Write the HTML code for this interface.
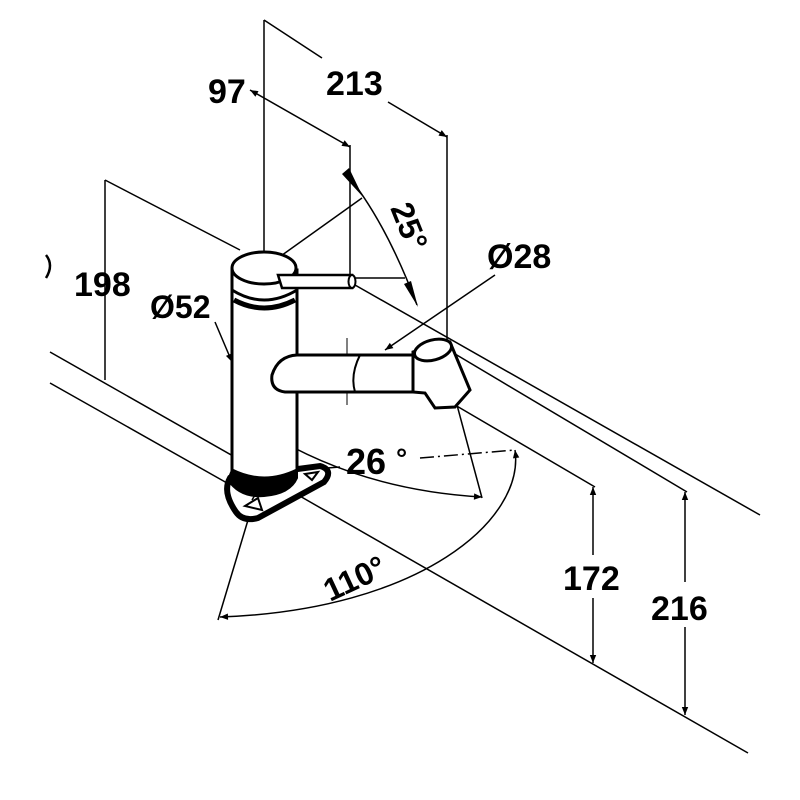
<!DOCTYPE html>
<html><head><style>body{margin:0;background:#fff}svg{display:block}text{font-family:"Liberation Sans",sans-serif;font-weight:bold;fill:#000}</style></head><body>
<svg width="800" height="800" viewBox="0 0 800 800" xmlns="http://www.w3.org/2000/svg">
<defs>
<marker id="a" viewBox="0 0 10 10" refX="10" refY="5" markerWidth="12" markerHeight="8" orient="auto-start-reverse" markerUnits="userSpaceOnUse"><path d="M0,1 L10,5 L0,9z" fill="#000"/></marker>
</defs>
<g stroke="#000" stroke-width="1.5" fill="none">
<line x1="105" y1="180" x2="240" y2="250"/>
<line x1="355" y1="285" x2="760" y2="515"/>
<line x1="50" y1="352" x2="263" y2="473"/>
<line x1="298" y1="495" x2="748" y2="753"/>
<line x1="50" y1="383" x2="227" y2="483"/>
<line x1="455" y1="405" x2="595" y2="487"/>
<line x1="440" y1="345" x2="687" y2="492"/>
<line x1="264" y1="20" x2="264" y2="432"/>
<line x1="350" y1="145" x2="350" y2="278"/>
<line x1="447" y1="135" x2="447" y2="345"/>
<line x1="105" y1="180" x2="105" y2="380"/>
<line x1="250" y1="90" x2="350" y2="147" marker-start="url(#a)" marker-end="url(#a)"/>
<line x1="264" y1="20" x2="322" y2="58"/>
<line x1="388" y1="102" x2="447" y2="137" marker-end="url(#a)"/>
<line x1="593" y1="487" x2="593" y2="555" marker-start="url(#a)"/>
<line x1="593" y1="598" x2="593" y2="663" marker-end="url(#a)"/>
<line x1="685" y1="492" x2="685" y2="582" marker-start="url(#a)"/>
<line x1="685" y1="627" x2="685" y2="715" marker-end="url(#a)"/>
<path d="M345,172 Q385,220 417,305"/>
<line x1="362" y1="198" x2="264" y2="268"/>
<line x1="353" y1="278" x2="405" y2="278"/>
<line x1="495" y1="275" x2="385" y2="350" marker-end="url(#a)"/>
<line x1="215" y1="322" x2="232" y2="362" marker-end="url(#a)"/>
<path d="M266,432 Q360,490 482,497" marker-start="url(#a)" marker-end="url(#a)"/>
<line x1="457" y1="405" x2="482" y2="498"/>
<line x1="263" y1="473" x2="340" y2="467"/>
<line x1="420" y1="458" x2="515" y2="450" stroke-dasharray="14,4,2,4"/>
<path d="M515,450 C525,520 420,610 220,617" marker-start="url(#a)" marker-end="url(#a)"/>
<line x1="248" y1="520" x2="218" y2="620"/>
<line x1="264" y1="373" x2="445" y2="373" stroke-dasharray="14,4,2,4" stroke-width="1"/>
<line x1="347" y1="338" x2="347" y2="405" stroke-width="1"/>
<path d="M46,255 Q54,265 46,278" stroke-width="2.5"/>
</g>
<path d="M342,174 L349,168 L363,197 Z" fill="#000"/>
<path d="M404,284 L411,281 L418,307 Z" fill="#000"/>
<g stroke="#000" stroke-width="3" fill="#fff">
<path d="M230,478 L320,466 Q334,470 324,482 L258,518 Q243,522 236,512 Q222,492 230,478 Z" stroke-width="6"/>
<path d="M228,480 Q240,498 264,496 Q290,494 297,478 L297,470 L232,470 Z" fill="#000" stroke-width="2"/>
<path d="M245,506 L258,498 L262,510 Z" fill="#fff" stroke-width="2"/>
<path d="M305,474 L318,472 L312,480 Z" fill="#fff" stroke-width="2"/>
<path d="M232,270 L232,470 Q264,486 297,470 L297,270 Z"/>
<line x1="264" y1="480" x2="252" y2="500" stroke-width="1.5"/>
<ellipse cx="264" cy="268" rx="32" ry="16"/>
<path d="M232,290 Q264,310 297,290" fill="none"/>
<path d="M234,300 Q264,316 295,300" fill="none" stroke-width="5"/>
<path d="M278,275 L352,275 L352,288 L282,288 Z" stroke-width="2.5"/>
<ellipse cx="352" cy="281.5" rx="3.5" ry="6.5" stroke-width="2"/>
<path d="M297,355 L413,355 L413,392 L285,392 Q270,390 272,375 Q278,356 297,355 Z"/>
<path d="M360,355 Q350,375 355,392" fill="none" stroke-width="2"/>
<path d="M413,352 L450,342 L470,390 L455,407 L435,408 L425,393 L413,392 Z"/>
<ellipse cx="433" cy="350" rx="19" ry="10" transform="rotate(-15 433 350)"/>
</g>
<text x="208" y="103" font-size="34">97</text>
<text x="326" y="95" font-size="34">213</text>
<text x="74" y="296" font-size="34">198</text>
<text x="150" y="318" font-size="32">Ø52</text>
<text x="487" y="268" font-size="34">Ø28</text>
<text x="346" y="474" font-size="36">26</text>
<text x="396" y="468" font-size="28">°</text>
<text x="563" y="590" font-size="34">172</text>
<text x="651" y="620" font-size="34">216</text>
<text transform="translate(330,602) rotate(-25)" font-size="32">110°</text>
<text transform="translate(390,208) rotate(68)" font-size="32">25°</text>
</svg>
</body></html>
